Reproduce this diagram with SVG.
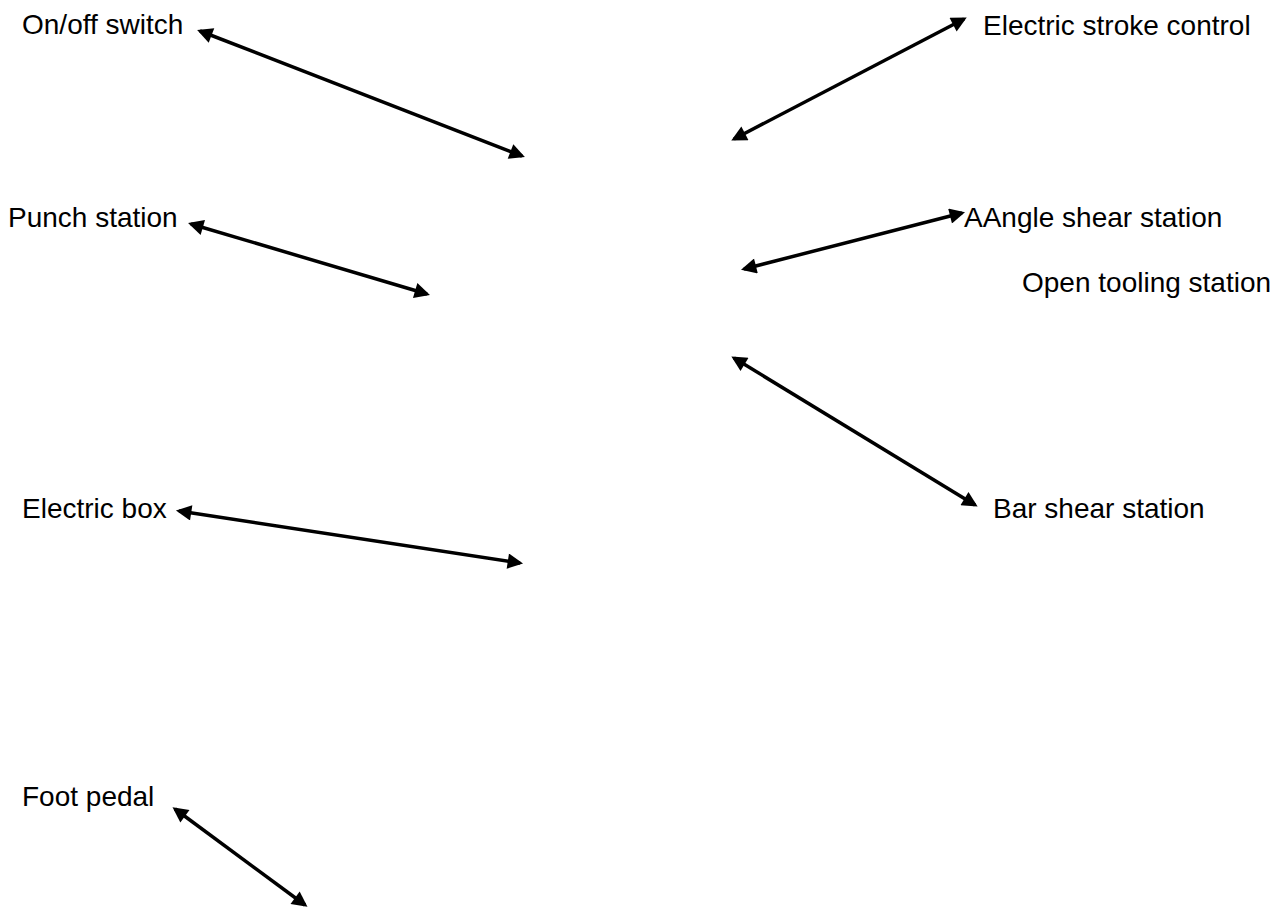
<svg xmlns="http://www.w3.org/2000/svg" width="1277" height="914" viewBox="0 0 1277 914">
<style>
.lbl{font-family:"Liberation Sans",Arial,sans-serif;font-size:28px;fill:#000}
.c{stroke:#000;stroke-width:3.5;fill:none;marker-start:url(#ah);marker-end:url(#ah)}
</style>
<defs>
<marker id="ah" viewBox="0 0 10 10" refX="8" refY="5" markerWidth="5" markerHeight="4.4" orient="auto-start-reverse" markerUnits="strokeWidth">
<path d="M0,0 L10,5 L0,10 z" fill="#000"/>
</marker>
</defs>
<rect width="1277" height="914" fill="#fff"/>
<g id="n-onoff"><text class="lbl" x="22" y="34">On/off switch</text></g>
<g id="n-stroke"><text class="lbl" x="983" y="35">Electric stroke control</text></g>
<g id="n-punch"><text class="lbl" x="8" y="227">Punch station</text></g>
<g id="n-angle"><text class="lbl" x="964" y="227">AAngle shear station</text></g>
<g id="n-open"><text class="lbl" x="1022" y="292">Open tooling station</text></g>
<g id="n-bar"><text class="lbl" x="993" y="518">Bar shear station</text></g>
<g id="n-ebox"><text class="lbl" x="22" y="518">Electric box</text></g>
<g id="n-foot"><text class="lbl" x="22" y="806">Foot pedal</text></g>
<g id="connectors">
<line class="c" x1="200" y1="31" x2="522" y2="156"/>
<line class="c" x1="964" y1="19" x2="734" y2="139"/>
<line class="c" x1="191" y1="224" x2="427" y2="294"/>
<line class="c" x1="962" y1="213" x2="744" y2="269"/>
<line class="c" x1="734" y1="358" x2="975" y2="505"/>
<line class="c" x1="179" y1="511" x2="520" y2="563"/>
<line class="c" x1="175" y1="809" x2="305" y2="905"/>
</g>
</svg>
